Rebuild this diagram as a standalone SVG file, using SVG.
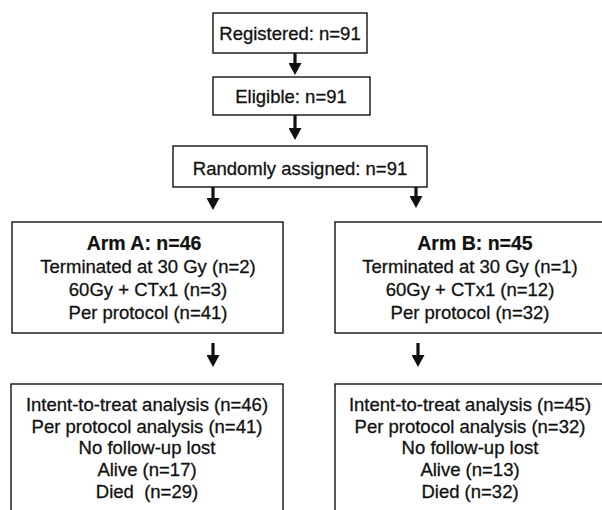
<svg xmlns="http://www.w3.org/2000/svg" width="602" height="510" viewBox="0 0 602 510">
<style>
.box{fill:#fff;stroke:#111;stroke-width:1.4}
.t{font-family:"Liberation Sans",Arial,sans-serif;font-size:18.5px;fill:#111;stroke:#111;stroke-width:0.3;text-anchor:middle}
.b{font-weight:bold;font-size:19.5px;stroke-width:0.2}
.arr{stroke:#111;stroke-width:3.2;fill:none}
</style>
<defs>
<marker id="ah" viewBox="0 0 12 13" refX="4" refY="6.5" markerWidth="12" markerHeight="13" markerUnits="userSpaceOnUse" orient="auto">
<path d="M0,0 L12,6.5 L0,13 z" fill="#111"/>
</marker>
</defs>
<rect width="602" height="510" fill="#fff"/>
<g id="registered">
<rect class="box" x="213" y="13" width="154" height="40"/>
<text class="t" x="290" y="40">Registered: n=91</text>
</g>
<g id="eligible">
<rect class="box" x="213" y="77" width="157" height="38"/>
<text class="t" x="291" y="103">Eligible: n=91</text>
</g>
<g id="randomized">
<rect class="box" x="173" y="146" width="254" height="41"/>
<text class="t" x="300" y="175">Randomly assigned: n=91</text>
</g>
<g id="armA">
<rect class="box" x="12" y="222" width="271" height="111"/>
<text class="t b" x="144" y="250">Arm A: n=46</text>
<text class="t" x="148" y="273">Terminated at 30 Gy (n=2)</text>
<text class="t" x="148" y="296">60Gy + CTx1 (n=3)</text>
<text class="t" x="148" y="319">Per protocol (n=41)</text>
</g>
<g id="armB">
<rect class="box" x="335" y="222" width="280" height="111"/>
<text class="t b" x="475" y="250">Arm B: n=45</text>
<text class="t" x="470" y="273">Terminated at 30 Gy (n=1)</text>
<text class="t" x="470" y="296">60Gy + CTx1 (n=12)</text>
<text class="t" x="470" y="319">Per protocol (n=32)</text>
</g>
<g id="analysisA">
<rect class="box" x="11" y="384" width="272" height="140"/>
<text class="t" x="147" y="411">Intent-to-treat analysis (n=46)</text>
<text class="t" x="147" y="433">Per protocol analysis (n=41)</text>
<text class="t" x="147" y="454">No follow-up lost</text>
<text class="t" x="147" y="476">Alive (n=17)</text>
<text class="t" x="147" y="498" xml:space="preserve">Died  (n=29)</text>
</g>
<g id="analysisB">
<rect class="box" x="335" y="384" width="280" height="140"/>
<text class="t" x="470" y="411">Intent-to-treat analysis (n=45)</text>
<text class="t" x="470" y="433">Per protocol analysis (n=32)</text>
<text class="t" x="470" y="454">No follow-up lost</text>
<text class="t" x="470" y="476">Alive (n=13)</text>
<text class="t" x="470" y="498">Died (n=32)</text>
</g>
<g id="connectors">
<line class="arr" x1="295" y1="53" x2="295" y2="67" marker-end="url(#ah)"/>
<line class="arr" x1="295" y1="115" x2="295" y2="132" marker-end="url(#ah)"/>
<line class="arr" x1="213" y1="187" x2="213" y2="202" marker-end="url(#ah)"/>
<line class="arr" x1="416" y1="187" x2="416" y2="200" marker-end="url(#ah)"/>
<line class="arr" x1="213" y1="343" x2="213" y2="359" marker-end="url(#ah)"/>
<line class="arr" x1="418" y1="343" x2="418" y2="359" marker-end="url(#ah)"/>
</g>
</svg>
